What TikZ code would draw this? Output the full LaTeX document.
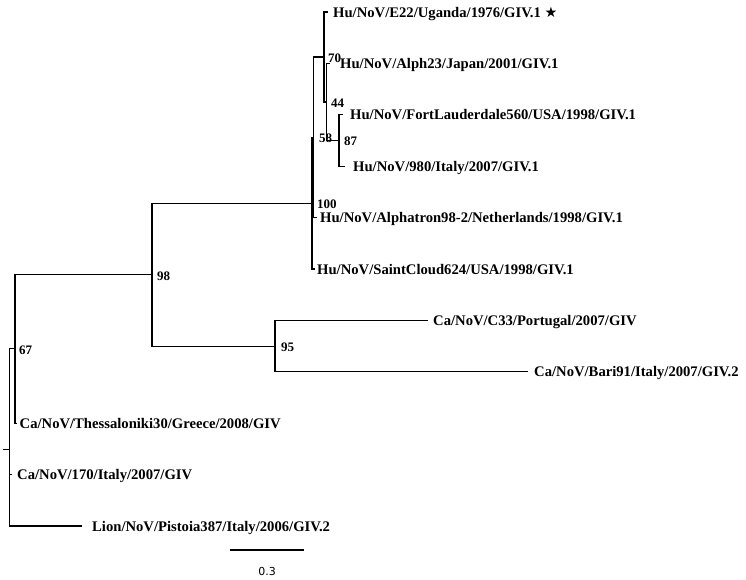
\documentclass[tikz,border=0pt]{standalone}
\usepackage{fontspec}
\setmainfont{Liberation Serif}
\newfontfamily\dejavu{DejaVu Sans}
\begin{document}
\begin{tikzpicture}[x=1pt,y=-1pt,
  branch/.style={line width=1.1pt},
  leaf/.style={anchor=base west,inner sep=0pt,font=\fontsize{14.65}{16}\selectfont\bfseries},
  boot/.style={anchor=base west,inner sep=0pt,font=\fontsize{13}{14}\selectfont\bfseries},
  scalelab/.style={anchor=center,inner sep=0pt,font=\dejavu\fontsize{11}{12}\selectfont}]
\useasboundingbox (0,0) rectangle (746,579);
% internal nodes
\coordinate (root) at (9.3,449.8);
\coordinate (rootstub) at (3,449.8);
\coordinate (n67) at (15,348.9);
\coordinate (n98) at (152,274.6);
\coordinate (n95) at (275,346.1);
\coordinate (n100) at (312,203.1);
\coordinate (n58) at (313.8,137.3);
\coordinate (n70) at (324,57.0);
\coordinate (n44) at (326.2,102.0);
\coordinate (n87) at (339,140.5);
% leaf branch ends
\coordinate (eE22) at (327.5,12);
\coordinate (eAlph) at (330,63.4);
\coordinate (eFort) at (343,114.8);
\coordinate (e980) at (345,166.2);
\coordinate (eAlpha) at (316.5,217.6);
\coordinate (eSaint) at (314.5,269);
\coordinate (eC33) at (428,320.4);
\coordinate (eBari) at (528,371.8);
\coordinate (eThess) at (16.5,423.2);
\coordinate (e170) at (12,474.6);
\coordinate (eLion) at (82,526);
% branches
\draw[branch] (rootstub) -- (root);
\draw[branch] (root) |- (n67);
\draw[branch] (root) |- (e170);
\draw[branch] (root) |- (eLion);
\draw[branch] (n67) |- (n98);
\draw[branch] (n67) |- (eThess);
\draw[branch] (n98) |- (n100);
\draw[branch] (n98) |- (n95);
\draw[branch] (n95) |- (eC33);
\draw[branch] (n95) |- (eBari);
\draw[branch] (n100) |- (n58);
\draw[branch] (n100) |- (eSaint);
\draw[branch] (n58) |- (n70);
\draw[branch] (n58) |- (eAlpha);
\draw[branch] (n70) |- (eE22);
\draw[branch] (n70) |- (n44);
\draw[branch] (n44) |- (eAlph);
\draw[branch] (n44) |- (n87);
\draw[branch] (n87) |- (eFort);
\draw[branch] (n87) |- (e980);
% leaf labels
\node[leaf] (lE22) at (333,17) {Hu/NoV/E22/Uganda/1976/GIV.1 {\dejavu\fontsize{14.3}{16}\selectfont ★}};
\node[leaf] (lAlph) at (340,68.4) {Hu/NoV/Alph23/Japan/2001/GIV.1};
\node[leaf] (lFort) at (350,119.8) {Hu/NoV/FortLauderdale560/USA/1998/GIV.1};
\node[leaf] (l980) at (353,171.2) {Hu/NoV/980/Italy/2007/GIV.1};
\node[leaf] (lAlpha) at (320,222.6) {Hu/NoV/Alphatron98-2/Netherlands/1998/GIV.1};
\node[leaf] (lSaint) at (317,274) {Hu/NoV/SaintCloud624/USA/1998/GIV.1};
\node[leaf] (lC33) at (433,325.4) {Ca/NoV/C33/Portugal/2007/GIV};
\node[leaf] (lBari) at (534,376.8) {Ca/NoV/Bari91/Italy/2007/GIV.2};
\node[leaf] (lThess) at (19.5,428.2) {Ca/NoV/Thessaloniki30/Greece/2008/GIV};
\node[leaf] (l170) at (17,479.6) {Ca/NoV/170/Italy/2007/GIV};
\node[leaf] (lLion) at (92,531) {Lion/NoV/Pistoia387/Italy/2006/GIV.2};
% bootstrap values
\node[boot] (b67) at (19,354.4) {67};
\node[boot] (b98) at (157,280.1) {98};
\node[boot] (b95) at (281,351.6) {95};
\node[boot] (b100) at (317,208.1) {100};
\node[boot] (b58) at (319,142.8) {58};
\node[boot] (b70) at (328,62) {70};
\node[boot] (b44) at (331,107) {44};
\node[boot] (b87) at (344,145.5) {87};
% scale bar
\coordinate (sbL) at (230,550);
\coordinate (sbR) at (304,550);
\draw[branch] (sbL) -- (sbR);
\node[scalelab] (sblab) at (267,571) {0.3};
\end{tikzpicture}
\end{document}
